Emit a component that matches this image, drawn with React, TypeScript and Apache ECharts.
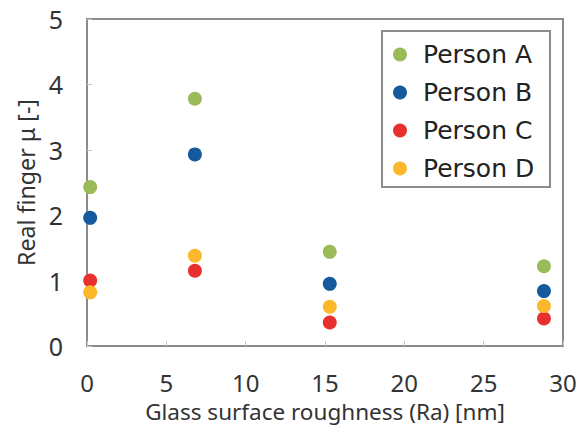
import React, { useEffect, useRef } from "react";
import * as echarts from "echarts";

const seriesNames = ["Person A", "Person B", "Person C", "Person D"];
const colors = ["#9BBB59", "#145A9C", "#E8302F", "#FBB82B"];
const roughness = [0.2, 6.8, 15.3, 28.8];
const personA = [2.43, 3.78, 1.44, 1.22];
const personB = [1.96, 2.93, 0.95, 0.84];
const personC = [1.0, 1.15, 0.36, 0.42];
const personD = [0.82, 1.38, 0.6, 0.61];
const allValues = [personA, personB, personC, personD];

const FONT = "Noto Sans";
const LEGEND_FONT = "DejaVu Sans";

export default function App() {
  const ref = useRef<HTMLDivElement>(null);
  useEffect(() => {
    if (!ref.current) return;
    const chart = echarts.init(ref.current, null, { renderer: "svg" });
    chart.setOption({
      animation: false,
      backgroundColor: "#ffffff",
      grid: {
        left: 87,
        top: 19,
        width: 476,
        height: 328,
        show: true,
        borderColor: "#8c8c8c",
        borderWidth: 2,
      },
      xAxis: {
        type: "value",
        min: 0,
        max: 30,
        interval: 5,
        name: "Glass surface roughness (Ra) [nm]",
        nameLocation: "middle",
        nameGap: 54,
        nameTextStyle: { fontFamily: FONT, fontSize: 22.5, color: "#333" },
        axisLine: { show: true, lineStyle: { color: "#8c8c8c", width: 2 } },
        axisTick: { show: true, inside: true, length: 5, lineStyle: { color: "#c8c8c8" } },
        axisLabel: { fontFamily: FONT, fontSize: 24, color: "#333", margin: 24 },
        splitLine: { show: false },
      },
      yAxis: {
        type: "value",
        min: 0,
        max: 5,
        interval: 1,
        name: "Real finger μ [-]",
        nameLocation: "middle",
        nameGap: 33,
        nameTextStyle: { fontFamily: FONT, fontSize: 23.2, color: "#333" },
        axisLine: { show: true, lineStyle: { color: "#8c8c8c", width: 2 } },
        axisTick: { show: true, inside: true, length: 5, lineStyle: { color: "#c8c8c8" } },
        axisLabel: { fontFamily: FONT, fontSize: 25, color: "#333", margin: 24 },
        splitLine: { show: false },
      },
      legend: {
        orient: "vertical",
        left: 393,
        top: 42,
        padding: 0,
        itemWidth: 14,
        itemHeight: 14,
        itemGap: 13,
        icon: "circle",
        textStyle: {
          fontFamily: LEGEND_FONT,
          fontSize: 25,
          lineHeight: 25,
          color: "#222",
          padding: [0, 0, 0, 11],
        },
        data: seriesNames,
      },
      graphic: [
        {
          type: "rect",
          shape: { x: 382, y: 31, width: 168, height: 156 },
          style: { fill: "none", stroke: "#8c8c8c", lineWidth: 2 },
          z: 10,
        },
      ],
      series: seriesNames.map((name, i) => ({
        name,
        type: "scatter",
        symbol: "circle",
        symbolSize: 14,
        itemStyle: { color: colors[i], opacity: 1 },
        data: roughness.map((x, j) => [x, allValues[i][j]]),
      })),
    });
    return () => chart.dispose();
  }, []);
  return <div ref={ref} style={{ width: 587, height: 428, position: "absolute", left: 0, top: 0 }} />;
}
